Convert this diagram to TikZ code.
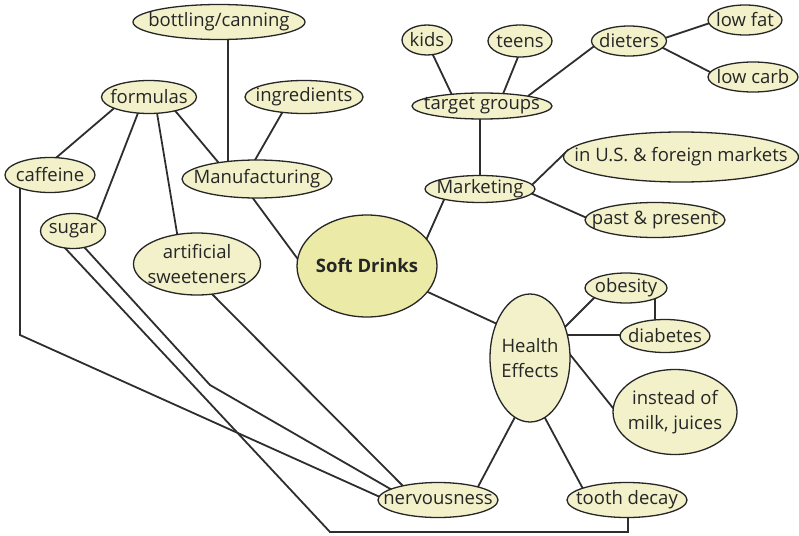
\documentclass[tikz,border=0pt]{standalone}
\usepackage{fontspec}
\setmainfont{Open Sans}
\usetikzlibrary{shapes.geometric,backgrounds,calc}
\definecolor{bubfill}{HTML}{F2F1CA}
\definecolor{softfill}{HTML}{EBEAA6}
\definecolor{ink}{HTML}{262626}
\definecolor{linec}{HTML}{2E2E2E}
\tikzset{
  bub/.style={ellipse, draw=ink, line width=1.3pt, fill=bubfill, inner sep=0pt},
  lbl/.style={text=ink, font=\fontsize{18.5}{25}\selectfont, align=center, inner sep=0pt},
  conn/.style={draw=linec, line width=1.8pt, shorten <=-5pt, shorten >=-5pt, line join=miter},
}
\newcommand{\bubble}[6]{%
  \node[bub, minimum width=#4pt, minimum height=#5pt, label={[lbl]center:{#6}}] (#1) at (#2,#3) {};}
\begin{document}
\begin{tikzpicture}[x=1pt,y=-1pt]
\useasboundingbox (0,0) rectangle (799,535);
% nodes
\bubble{bott}{219}{22}{172}{35}{bottling/canning}
\bubble{form}{149}{97}{95}{33}{formulas}
\bubble{ingr}{304}{97}{118}{33}{ingredients}
\bubble{caff}{50}{175}{90}{35}{caffeine}
\bubble{manu}{257}{179}{150}{38}{Manufacturing}
\bubble{sugar}{73}{231}{65}{35}{sugar}
\bubble{art}{197}{264}{127}{62}{artificial\\sweeteners}
\node[bub, fill=softfill, minimum width=140pt, minimum height=102pt,
  label={[lbl, font=\fontsize{18.5}{25}\selectfont\bfseries]center:{Soft Drinks}}] (soft) at (367,266) {};
\bubble{kids}{427}{40}{50}{30}{kids}
\bubble{teens}{520}{41}{64}{32}{teens}
\bubble{diet}{629}{41}{75}{30}{dieters}
\bubble{lfat}{745}{20}{74}{30}{low fat}
\bubble{lcarb}{753}{77}{90}{30}{low carb}
\bubble{targ}{482}{106}{140}{26}{target groups}
\bubble{mark}{480}{189}{110}{27}{Marketing}
\bubble{us}{681}{157}{235}{50}{in U.S. \& foreign markets}
\bubble{past}{655}{220}{140}{35}{past \& present}
\bubble{health}{530}{358}{80}{128}{Health\\Effects}
\bubble{obes}{626}{288}{82}{30}{obesity}
\bubble{diab}{665}{336}{90}{33}{diabetes}
\bubble{inst}{675}{412}{124}{85}{instead of\\milk, juices}
\bubble{nerv}{438}{500}{120}{35}{nervousness}
\bubble{tooth}{627}{500}{120}{35}{tooth decay}
\coordinate (c1) at (20,335);
\coordinate (c2) at (330,532);
\coordinate (c3) at (628,532);
\coordinate (c4) at (210,385);
% connectors
\begin{scope}[on background layer]
\fill[white] (0,0) rectangle (799,535);
\draw[conn] ($(bott)+(9,18)$) -- ($(manu)+(-29,-19)$);
\draw[conn] ($(ingr)+(-22,16)$) -- ($(manu)+(-2,-19)$);
\draw[conn] ($(form)+(28,16)$) -- ($(manu)+(-39,-17)$);
\draw[conn] ($(form)+(-37,13)$) -- ($(caff)+(7,-18)$);
\draw[conn] ($(form)+(-11,16)$) -- ($(sugar)+(25,-15)$);
\draw[conn] ($(form)+(8,16)$) -- ($(art)+(-20,-31)$);
\draw[conn] ($(manu)+(-5,18)$) -- ($(soft)+(-70,-8)$);
\draw[conn] ($(caff)+(-30,17)$) -- (c1) -- ($(nerv)+(-58,-3)$);
\draw[conn] ($(sugar)+(-8,17)$) -- (c2) -- (c3) -- ($(tooth)+(1,17)$);
\draw[conn] ($(sugar)+(12,17)$) -- (c4) -- ($(nerv)+(-51,-13)$);
\draw[conn] ($(art)+(16,31)$) -- ($(nerv)+(-38,-17)$);
\draw[conn] ($(kids)+(6,15)$) -- ($(targ)+(-30,-11)$);
\draw[conn] ($(teens)+(-2,16)$) -- ($(targ)+(21,-12)$);
\draw[conn] ($(targ)+(50,-13)$) -- ($(diet)+(-36,6)$);
\draw[conn] ($(diet)+(39,-4)$) -- ($(lfat)+(-35,3)$);
\draw[conn] ($(diet)+(38,9)$) -- ($(lcarb)+(-41,-4)$);
\draw[conn] ($(targ)+(-2,12)$) -- ($(mark)+(0,-12)$);
\draw[conn] ($(mark)+(55,-7)$) -- ($(us)+(-116,-4)$);
\draw[conn] ($(mark)+(55,6)$) -- ($(past)+(-68,-2)$);
\draw[conn] ($(mark)+(-37,13)$) -- ($(soft)+(60,-28)$);
\draw[conn] ($(soft)+(63,27)$) -- ($(health)+(-35,-35)$);
\draw[conn] ($(health)+(37,-33)$) -- ($(obes)+(-31,9)$);
\draw[conn] ($(health)+(38,-23)$) -- ($(diab)+(-45,-1)$);
\draw[conn] ($(obes)+(29,12)$) -- ($(diab)+(-10,-16)$);
\draw[conn] ($(health)+(42,-1)$) -- ($(inst)+(-62,-4)$);
\draw[conn] ($(health)+(-15,59)$) -- ($(nerv)+(42,-17)$);
\draw[conn] ($(health)+(15,60)$) -- ($(tooth)+(-45,-13)$);
\end{scope}
\end{tikzpicture}
\end{document}
